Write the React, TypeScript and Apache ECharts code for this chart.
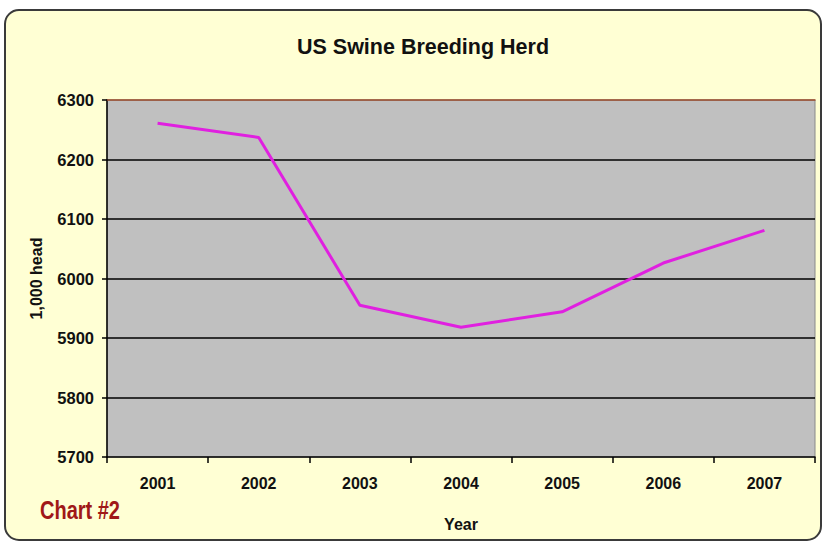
import React, { useEffect, useRef } from "react";
import * as echarts from "echarts";

const years = ["2001", "2002", "2003", "2004", "2005", "2006", "2007"];
const herd = [6261, 6237, 5955, 5918, 5944, 6026, 6081];
const yMin = 5700;
const yMax = 6300;
const yStep = 100;

const FONT = "'Liberation Sans', Arial, sans-serif";

export default function App() {
  const ref = useRef<HTMLDivElement>(null);
  useEffect(() => {
    if (!ref.current) return;
    const chart = echarts.init(ref.current, null, { renderer: "svg" });
    chart.setOption({
      animation: false,
      backgroundColor: "#ffffff",
      title: {
        text: "US Swine Breeding Herd",
        left: 418,
        textAlign: "center",
        top: 31,
        textStyle: { fontFamily: FONT, fontWeight: "bold", fontSize: 21.5, color: "#111" },
      },
      graphic: [
        {
          type: "rect",
          z: -10,
          shape: { x: 5, y: 10, width: 816, height: 530, r: 14 },
          style: { fill: "#FFFFD4", stroke: "#3a3a3a", lineWidth: 2 },
        },
        {
          type: "text",
          x: 40,
          y: 498,
          scaleX: 0.8,
          style: {
            text: "Chart #2",
            fontFamily: FONT,
            fontSize: 25,
            fontWeight: "bold",
            fill: "#A01818",
          },
        },
      ],
      grid: {
        left: 107,
        right: 10,
        top: 100,
        bottom: 87,
        show: true,
        backgroundColor: "#C0C0C0",
        borderColor: "#8a8a8a",
        borderWidth: 1,
      },
      xAxis: [
        {
          type: "category",
          data: years,
          boundaryGap: true,
          name: "Year",
          nameLocation: "middle",
          nameGap: 59,
          nameTextStyle: { fontFamily: FONT, fontWeight: "bold", fontSize: 16, color: "#111" },
          axisLine: { lineStyle: { color: "#000", width: 1.5 } },
          axisTick: { show: true, alignWithLabel: false, length: 6, lineStyle: { color: "#000", width: 1.5 } },
          axisLabel: { margin: 18, fontFamily: FONT, fontWeight: "bold", fontSize: 16, color: "#111" },
          splitLine: { show: false },
        },
        {
          type: "category",
          data: years,
          position: "top",
          axisLine: { show: true, lineStyle: { color: "#9a4a2a", width: 1.5 } },
          axisTick: { show: false },
          axisLabel: { show: false },
          splitLine: { show: false },
        },
      ],
      yAxis: {
        type: "value",
        min: yMin,
        max: yMax,
        interval: yStep,
        name: "1,000 head",
        nameLocation: "middle",
        nameGap: 63,
        nameRotate: 90,
        nameTextStyle: { fontFamily: FONT, fontWeight: "bold", fontSize: 16, color: "#111" },
        axisLine: { show: true, lineStyle: { color: "#000", width: 1.5 } },
        axisTick: { show: true, length: 5, lineStyle: { color: "#000", width: 1.5 } },
        axisLabel: {
          margin: 13,
          fontFamily: FONT,
          fontWeight: "bold",
          fontSize: 16.5,
          color: "#111",
          formatter: (v: number) => String(v),
        },
        splitLine: {
          show: true,
          showMinLine: false,
          showMaxLine: false,
          lineStyle: { color: "#000", width: 1.5 },
        },
      },
      series: [
        {
          type: "line",
          data: herd,
          xAxisIndex: 0,
          showSymbol: false,
          symbol: "none",
          lineStyle: { color: "#E020E0", width: 3 },
        },
      ],
    });
    return () => chart.dispose();
  }, []);
  return (
    <div
      ref={ref}
      style={{ position: "absolute", left: 0, top: 0, width: 825, height: 544 }}
    />
  );
}
